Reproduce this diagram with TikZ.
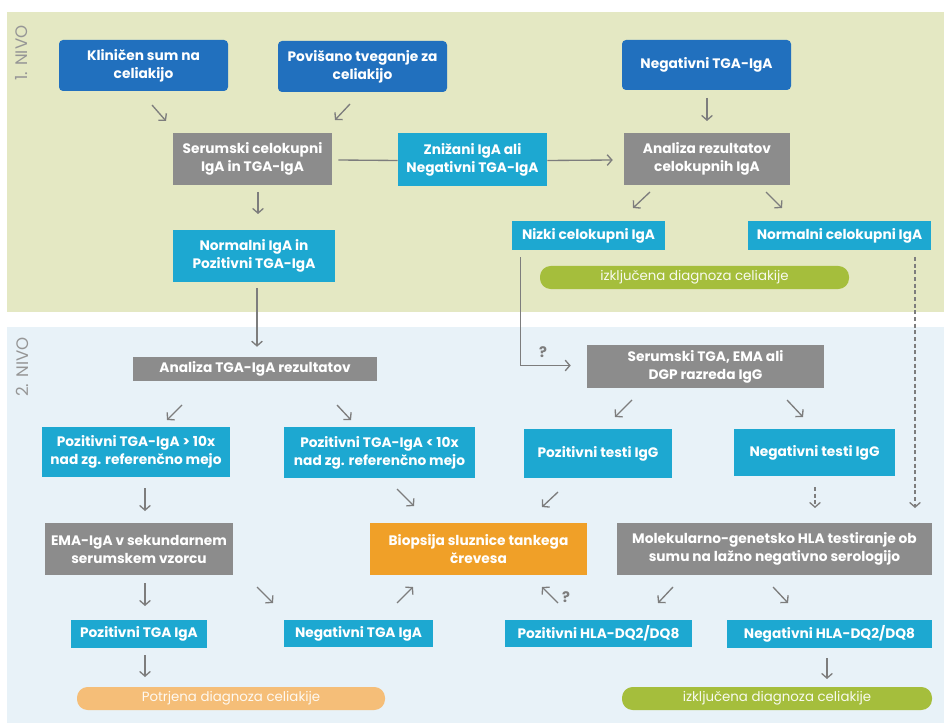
\documentclass[tikz,border=0pt]{standalone}
\usepackage{fontspec}
\setmainfont{Poppins}
\usetikzlibrary{arrows.meta,calc}
\definecolor{darkb}{RGB}{33,112,190}
\definecolor{cyanc}{RGB}{29,168,209}
\definecolor{grayc}{RGB}{140,140,140}
\definecolor{orangec}{RGB}{240,160,40}
\definecolor{lorange}{RGB}{245,190,120}
\definecolor{greenc}{RGB}{165,190,60}
\definecolor{greenbg}{RGB}{228,232,195}
\definecolor{bluebg}{RGB}{232,242,248}
\definecolor{arrowc}{RGB}{125,125,125}
\definecolor{nivoc}{RGB}{150,150,150}
\tikzset{
  wh/.style 2 args={minimum width=#1*0.75pt,minimum height=#2*0.75pt},
  basebox/.style={inner sep=0pt,align=center,text=white,font=\fontsize{10.3}{13.5}\selectfont\bfseries},
  darkbox/.style={basebox,fill=darkb,rounded corners=3pt},
  cyanbox/.style={basebox,fill=cyanc},
  graybox/.style={basebox,fill=grayc},
  orangebox/.style={basebox,fill=orangec},
  pilltext/.style={inner sep=0pt,align=center,font=\fontsize{10}{12}\selectfont},
  greenpill/.style={pilltext,fill=greenc,rounded corners=8pt,text=white!92!greenc},
  orangepill/.style={pilltext,fill=lorange,rounded corners=8pt,text=white!90!lorange},
  conn/.style={draw=arrowc,line width=1pt},
  arr/.style={conn,-{Straight Barb[length=3.5pt,width=8pt]}},
  qmark/.style={text=arrowc,font=\fontsize{11}{13}\selectfont\bfseries,inner sep=0pt},
  nivo/.style={text=nivoc,font=\fontsize{12.5}{14}\selectfont,rotate=90,inner sep=0pt}
}
\begin{document}
\begin{tikzpicture}[x=0.75pt,y=-0.75pt]
\useasboundingbox (0,0) rectangle (944,723);
\fill[white] (0,0) rectangle (944,723);
\fill[greenbg] (7,12) rectangle (944,312);
\fill[bluebg] (7,327) rectangle (944,723);
\node[nivo] (n1) at (22,53) {1. NIVO};
\node[nivo] (n2) at (22,367) {2. NIVO};

% level 1
\node[darkbox,wh={169}{51}] (k1) at (143.5,65.5) {Kliničen sum na\\celiakijo};
\node[darkbox,wh={169}{51}] (k2) at (362.5,66.5) {Povišano tveganje za\\celiakijo};
\node[darkbox,wh={169}{50}] (k3) at (706.5,65) {Negativni TGA-IgA};
\node[graybox,wh={159}{52}] (k4) at (252.5,159) {Serumski celokupni\\IgA in TGA-IgA};
\node[cyanbox,wh={149}{53}] (k5) at (472.5,159.5) {Znižani IgA ali\\Negativni TGA-IgA};
\node[graybox,wh={166}{52}] (k6) at (707,159) {Analiza rezultatov\\celokupnih IgA};
\node[cyanbox,wh={162}{52}] (k7) at (254,256) {Normalni IgA in\\Pozitivni TGA-IgA};
\node[cyanbox,wh={153}{29}] (k8) at (588.5,235.5) {Nizki celokupni IgA};
\node[cyanbox,wh={183}{29}] (k9) at (839.5,235.5) {Normalni celokupni IgA};
\node[greenpill,wh={309}{23}] (k10) at (694.5,277.5) {izključena diagnoza celiakije};

% level 2
\node[graybox,wh={244}{24}] (k11) at (255,369) {Analiza TGA-IgA rezultatov};
\node[graybox,wh={237}{43}] (k12) at (705.5,366.5) {Serumski TGA, EMA ali\\DGP razreda IgG};
\node[cyanbox,wh={188}{50}] (k13) at (136,452) {Pozitivni TGA-IgA > 10x\\nad zg. referenčno mejo};
\node[cyanbox,wh={191}{51}] (k14) at (379.5,452.5) {Pozitivni TGA-IgA < 10x\\nad zg. referenčno mejo};
\node[cyanbox,wh={148}{49}] (k15) at (598,453.5) {Pozitivni testi IgG};
\node[cyanbox,wh={161}{47}] (k16) at (814.5,452.5) {Negativni testi IgG};
\node[graybox,wh={188}{52}] (k17) at (139,549) {EMA-IgA v sekundarnem\\serumskem vzorcu};
\node[orangebox,wh={217}{52}] (k18) at (478.5,549) {Biopsija sluznice tankega\\črevesa};
\node[graybox,wh={315}{52}] (k19) at (774.5,549) {Molekularno-genetsko HLA testiranje ob\\sumu na lažno negativno serologijo};
\node[cyanbox,wh={136}{28}] (k20) at (139,634) {Pozitivni TGA IgA};
\node[cyanbox,wh={149}{27}] (k21) at (358.5,633.5) {Negativni TGA IgA};
\node[cyanbox,wh={187}{27}] (k22) at (598.5,633.5) {Pozitivni HLA-DQ2/DQ8};
\node[cyanbox,wh={205}{28}] (k23) at (829.5,634) {Negativni HLA-DQ2/DQ8};
\node[orangepill,wh={308}{23}] (k24) at (231,698.5) {Potrjena diagnoza celiakije};
\node[greenpill,wh={310}{23}] (k25) at (777,698.5) {izključena diagnoza celiakije};

% long connectors
\draw[conn] ($(k4.east)+(6,1)$) -- ($(k5.west)+(0,1)$);
\draw[arr] ($(k5.east)+(0,1)$) -- ($(k6.west)+(-11,1)$);
\draw[arr] ($(k7.south)+(3,6)$) -- ($(k11.north)+(2,-10)$);
\draw[arr] ($(k8.south west)+(9,7)$) |- ($(k12.west)+(-16,-1)$);
\node[qmark] (q1) at (543,352) {?};
\coordinate (d1) at (915,257);
\coordinate (d2) at (915,508);
\draw[arr,dashed,dash pattern=on 3pt off 2pt] (d1) -- (d2);

% short arrows
\foreach \n/\sx/\sy/\ex/\ey in {
  a1/152/105/166/121, a2/350/104/335/120, a3/707/98/707/121,
  a4/258/192/258/214, a5/650/192/633/208, a6/766/192/782/208,
  a7/182/405/167/420, a8/337/405/351/420, a9/632/400/615/417,
  a10/787/400/803/417, a11/145/488/145/511, a12/397/489/414/506,
  a13/558/492/542/507, a15/145/583/145/606, a16/257/587/273/603,
  a17/397/603/413/587, a18/558/603/542/587, a19/673/587/658/603,
  a20/773/587/788/603, a21/145/655/145/677, a22/827/658/827/679}{
  \coordinate (\n s) at (\sx,\sy);
  \coordinate (\n e) at (\ex,\ey);
  \draw[arr] (\n s) -- (\n e);
}
\coordinate (a14s) at (815,487);
\coordinate (a14e) at (815,508);
\draw[arr,dashed,dash pattern=on 3pt off 2pt] (a14s) -- (a14e);
\node[qmark] (q2) at (566,597) {?};
\end{tikzpicture}
\end{document}
